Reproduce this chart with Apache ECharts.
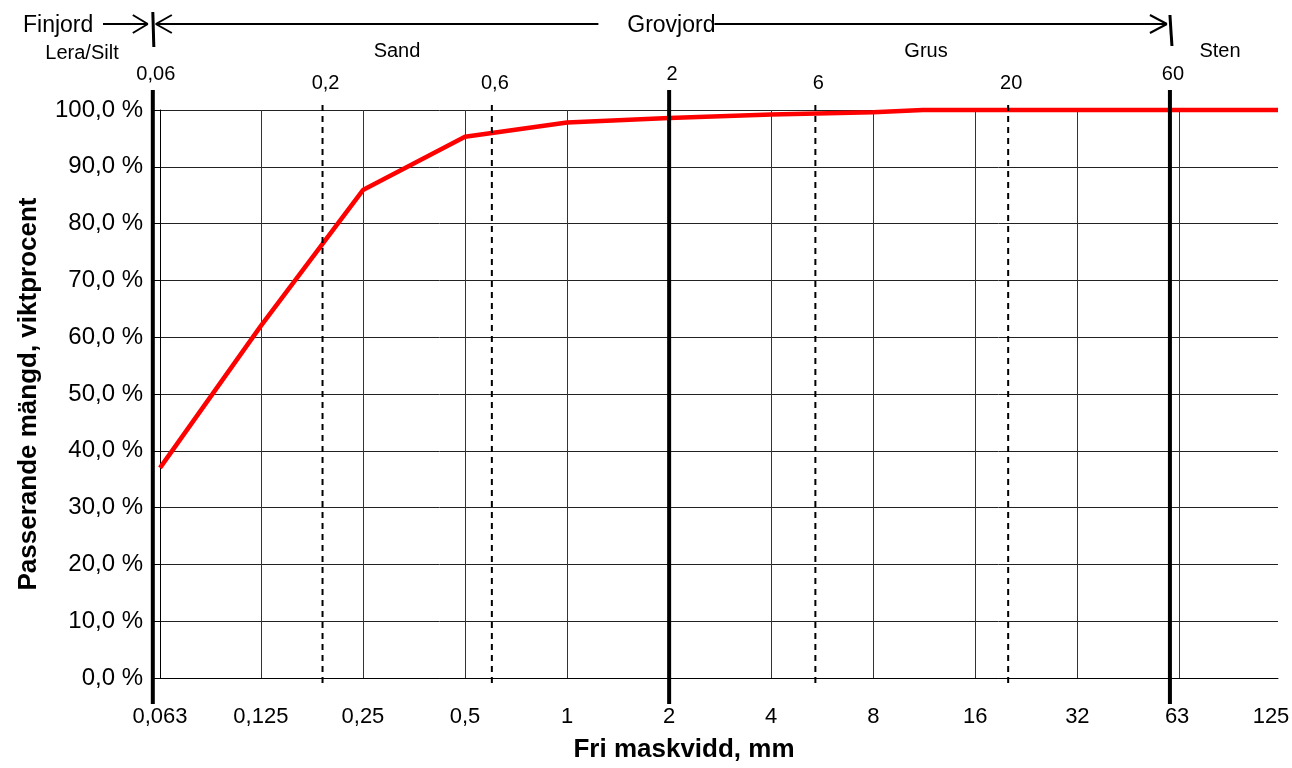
<!DOCTYPE html>
<html><head><meta charset="utf-8">
<script src="https://cdn.jsdelivr.net/npm/echarts@6/dist/echarts.min.js"></script>
<style>html,body{margin:0;padding:0;background:#fff}#c{width:1292px;height:768px}</style>
</head><body><div id="c"></div>
<script>
// ---- data ----
const sieveMm    = [0.063, 0.125, 0.25, 0.5, 1, 2, 4, 8, 11.2, 16, 32, 63, 125];
const passingPct = [37.0, 62.0, 85.9, 95.3, 97.8, 98.6, 99.2, 99.6, 100, 100, 100, 100, 100];
const xTickMm     = [0.063, 0.125, 0.25, 0.5, 1, 2, 4, 8, 16, 32, 63, 125];
const xTickLabels = ['0,063', '0,125', '0,25', '0,5', '1', '2', '4', '8', '16', '32', '63', '125'];
const xGridMm     = [0.125, 0.25, 0.5, 1, 2, 4, 8, 16, 32, 64];
const boundaryMm     = [0.06, 0.19, 0.6, 2, 5.4, 20, 60];
const boundaryLabels = ['0,06', '0,2', '0,6', '2', '6', '20', '60'];
const boundaryMajor  = [true, false, false, true, false, false, true];
const zoneLabels  = ['Lera/Silt', 'Sand', 'Grus', 'Sten'];
const classLabels = ['Finjord', 'Grovjord'];
const xTitle = 'Fri maskvidd, mm';
const yTitle = 'Passerande mängd, viktprocent';

// ---- styles ----
const FONT = '"Liberation Sans", Arial, sans-serif';
const MAJOR = { above: 20, below: 26, width: 4, dash: null, labelGap: 36 };
const MINOR = { above: 5, below: 10, width: 2, dash: [6, 5], labelGap: 27 };

const chart = echarts.init(document.getElementById('c'), null, { renderer: 'canvas' });

const option = {
  animation: false,
  backgroundColor: '#fff',
  grid: { left: 160, right: 14, top: 110, bottom: 90, containLabel: false },
  xAxis: {
    type: 'log', logBase: 2, min: 0.063, max: 125,
    name: xTitle, nameLocation: 'middle', nameGap: 59,
    nameTextStyle: { fontFamily: FONT, fontSize: 26, fontWeight: 'bold', color: '#000', padding: [0, 70, 0, 0] },
    axisLine: { show: true, lineStyle: { color: '#000', width: 1 } },
    axisTick: { show: false }, axisLabel: { show: false }, splitLine: { show: false }
  },
  yAxis: {
    type: 'value', min: 0, max: 100, interval: 10,
    name: yTitle, nameLocation: 'middle', nameGap: 118,
    nameTextStyle: { fontFamily: FONT, fontSize: 26, fontWeight: 'bold', color: '#000' },
    axisLine: { show: true, lineStyle: { color: '#000', width: 1 } },
    axisTick: { show: true, length: 7, lineStyle: { color: '#000' } },
    axisLabel: { margin: 17, fontFamily: FONT, fontSize: 24, color: '#000',
      formatter: v => v.toFixed(1).replace('.', ',') + ' %' },
    splitLine: { show: true, lineStyle: { color: '#222', width: 1 } }
  },
  series: [
    { // vertical grid lines at each sieve doubling
      type: 'custom', name: 'xgrid', z: 1, silent: true, clip: false,
      data: xGridMm.map(v => [v, 0]),
      renderItem(params, api) {
        const p0 = api.coord([api.value(0), 0]);
        const p1 = api.coord([api.value(0), 100]);
        const x = Math.round(p0[0]) + 0.5;
        return { type: 'line', shape: { x1: x, y1: p0[1], x2: x, y2: p1[1] },
          style: { stroke: '#333', lineWidth: 1 } };
      }
    },
    { // x tick labels
      type: 'custom', name: 'xlabels', z: 2, silent: true, clip: false,
      data: xTickMm.map((v, i) => [v, 0, i]),
      renderItem(params, api) {
        const p = api.coord([api.value(0), 0]);
        const x = Math.min(p[0], api.getWidth() - 21);
        return { type: 'text', x: x, y: p[1] + 39,
          style: { text: xTickLabels[api.value(2)], font: '22px ' + FONT, fill: '#000',
            align: 'center', verticalAlign: 'middle', textAlign: 'center', textVerticalAlign: 'middle' } };
      }
    },
    { // grain-size curve
      type: 'line', name: 'Passerande', z: 3, clip: false,
      data: sieveMm.map((v, i) => [v, passingPct[i]]),
      showSymbol: false, symbol: 'none',
      lineStyle: { color: '#ff0000', width: 4.5 }
    },
    { // fraction boundaries
      type: 'custom', name: 'boundaries', z: 4, silent: true, clip: false,
      data: boundaryMm.map((v, i) => [v, 50, i]),
      renderItem(params, api) {
        const i = api.value(2);
        const top = api.coord([api.value(0), 100]);
        const bot = api.coord([api.value(0), 0]);
        const x = top[0];
        const st = boundaryMajor[i] ? MAJOR : MINOR;
        return { type: 'group', children: [
          { type: 'line', shape: { x1: x, y1: top[1] - st.above, x2: x, y2: bot[1] + st.below },
            style: { stroke: '#000', lineWidth: st.width, lineDash: st.dash } },
          { type: 'text', x: x + 3, y: top[1] - st.labelGap,
            style: { text: boundaryLabels[i], font: '20px ' + FONT, fill: '#000',
              align: 'center', verticalAlign: 'middle', textAlign: 'center', textVerticalAlign: 'middle' } }
        ] };
      }
    }
  ]
};
chart.setOption(option);

// ---- annotations above the plot (anchored to the boundary positions) ----
const px = v => chart.convertToPixel({ gridIndex: 0 }, [v, 100])[0];
const xFin = px(boundaryMm[0]);
const xSten = px(boundaryMm[6]);
const ya = 24;
const line = (x1, y1, x2, y2, w) => ({ type: 'line', shape: { x1, y1, x2, y2 }, style: { stroke: '#000', lineWidth: w || 2 } });
const txt = (t, x, y, size, align) => ({ type: 'text', x, y,
  style: { text: t, font: size + 'px ' + FONT, fill: '#000', align: align || 'center', verticalAlign: 'middle',
    textAlign: align || 'center', textVerticalAlign: 'middle' } });
const grovX = (xFin + xSten) / 2 + 10;

chart.setOption({ graphic: { elements: [
  txt(classLabels[0], 23, 26, 23, 'left'),
  line(103, ya, xFin - 5, ya),
  line(xFin - 20, ya - 9, xFin - 5, ya), line(xFin - 20, ya + 9, xFin - 5, ya),
  line(xFin, 12, xFin + 1, 47, 3),
  line(xFin + 3, ya, grovX - 73, ya),
  line(xFin + 3, ya, xFin + 19, ya - 9), line(xFin + 3, ya, xFin + 19, ya + 9),
  txt(classLabels[1], grovX, 26, 23),
  line(grovX + 43, ya, xSten - 3, ya),
  line(xSten - 3, ya, xSten - 20, ya - 9), line(xSten - 3, ya, xSten - 20, ya + 9),
  line(xSten, 15, xSten + 2, 46, 3),
  txt(zoneLabels[0], 82, 53, 20),
  txt(zoneLabels[1], 397, 51, 20),
  txt(zoneLabels[2], 926, 51, 20),
  txt(zoneLabels[3], 1220, 51, 20)
] } });
</script></body></html>
